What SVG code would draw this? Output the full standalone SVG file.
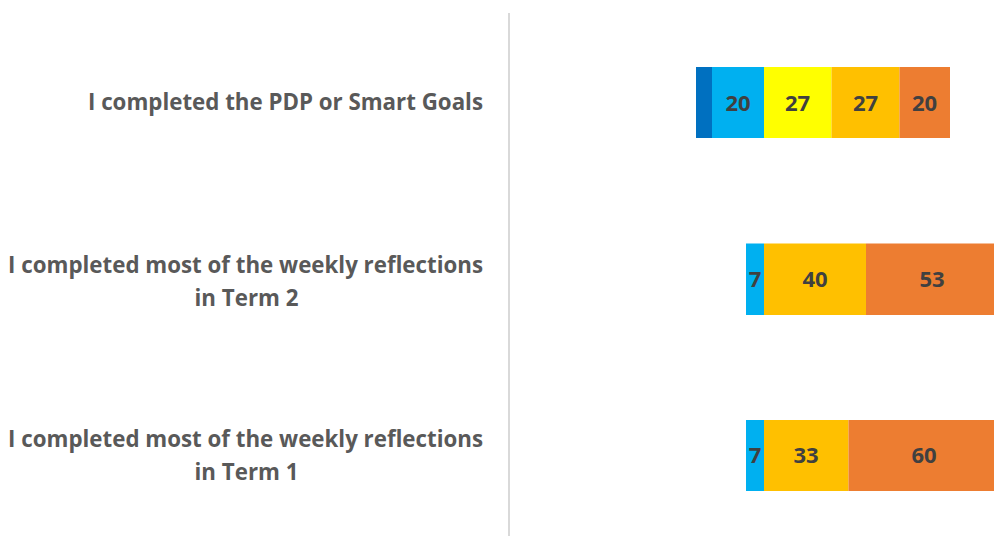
<svg xmlns="http://www.w3.org/2000/svg" width="994" height="536" viewBox="0 0 994 536">
<style>
.lbl{font-family:"Open Sans","Liberation Sans",sans-serif;font-weight:bold;font-size:22.3px;fill:#595959;text-anchor:end}
.c{text-anchor:middle}
.val{font-family:"Open Sans","Liberation Sans",sans-serif;font-weight:bold;font-size:22px;fill:#404040;text-anchor:middle}
.db{fill:#0070C0}.lb{fill:#00B0F0}.ye{fill:#FFFF00}.go{fill:#FFC000}.or{fill:#ED7D31}
</style>
<rect width="994" height="536" fill="#ffffff"/>
<g id="axis"><line x1="509" y1="13" x2="509" y2="536" stroke="#d9d9d9" stroke-width="2"/></g>
<g id="row1">
<text class="lbl" x="483" y="110">I completed the PDP or Smart Goals</text>
<rect class="db" x="696" y="67" width="16" height="71"/>
<rect class="lb" x="712" y="67" width="52" height="71"/>
<rect class="ye" x="764" y="67" width="67.5" height="71"/>
<rect class="go" x="831.5" y="67" width="68" height="71"/>
<rect class="or" x="899.5" y="67" width="50.5" height="71"/>
<text class="val" x="738" y="111">20</text>
<text class="val" x="797.5" y="111">27</text>
<text class="val" x="865.5" y="111">27</text>
<text class="val" x="924.5" y="111">20</text>
</g>
<g id="row2">
<text class="lbl" x="483" y="273">I completed most of the weekly reflections</text>
<text class="lbl c" x="246.5" y="306">in Term 2</text>
<rect class="lb" x="746" y="243.5" width="18" height="71.5"/>
<rect class="go" x="764" y="243.5" width="102" height="71.5"/>
<rect class="or" x="866" y="243.5" width="135" height="71.5"/>
<text class="val" x="755" y="287">7</text>
<text class="val" x="815" y="287">40</text>
<text class="val" x="932" y="287">53</text>
</g>
<g id="row3">
<text class="lbl" x="483" y="447">I completed most of the weekly reflections</text>
<text class="lbl c" x="246.5" y="480">in Term 1</text>
<rect class="lb" x="746" y="420" width="18" height="71"/>
<rect class="go" x="764" y="420" width="84.5" height="71"/>
<rect class="or" x="848.5" y="420" width="152" height="71"/>
<text class="val" x="755" y="463">7</text>
<text class="val" x="806" y="463">33</text>
<text class="val" x="924" y="463">60</text>
</g>
</svg>
